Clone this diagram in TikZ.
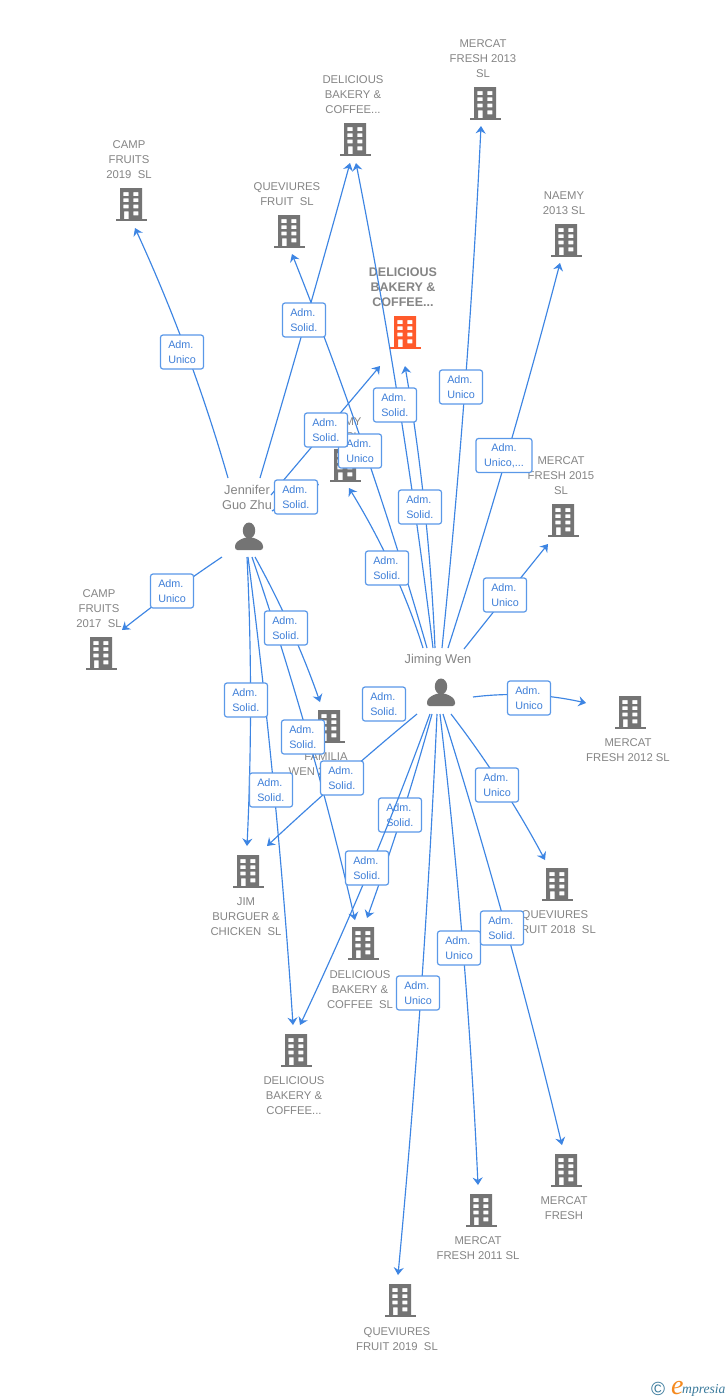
\documentclass[tikz,border=0pt]{standalone}
\usepackage{fontspec}
\setmainfont{Liberation Sans}
\newfontfamily\logofont{Liberation Serif}
\usetikzlibrary{arrows.meta,calc}
\definecolor{edgeblue}{HTML}{3D85E3}
\definecolor{boxblue}{HTML}{5A98E8}
\definecolor{labblue}{HTML}{3F7FD8}
\definecolor{icongray}{HTML}{747474}
\definecolor{txtgray}{HTML}{858585}
\definecolor{mainred}{HTML}{FF5A2B}
\definecolor{logoteal}{HTML}{3A7A9C}
\definecolor{logoorange}{HTML}{F58A1F}
\tikzset{
  x=1pt,y=-1pt,
  conn/.style={draw=edgeblue,line width=1.15pt,-{Stealth[length=7.5pt,width=10pt,inset=2.5pt]}},
  admbox/.style={draw=boxblue,line width=1.2pt,fill=white,rounded corners=2.5pt,minimum width=43pt,minimum height=34pt,inner sep=0pt,text=labblue,font=\fontsize{10.8}{15}\selectfont,text width=27.5pt,align=left},
  widebox/.style={admbox,text width=56pt,minimum width=56pt,align=center},
  nodetxt/.style={align=center,text=txtgray,inner sep=0pt,font=\fontsize{11.3}{15}\selectfont},
  persontxt/.style={align=center,text=txtgray,inner sep=0pt,font=\fontsize{12.8}{15}\selectfont},
  maintxt/.style={align=center,text=txtgray,inner sep=0pt,font=\bfseries\fontsize{12.5}{15}\selectfont},
}
\newcommand{\bicon}[3]{%
  \coordinate (#1) at (#2);
  \begin{scope}[shift={(#1)}]
    \fill[#3,even odd rule] (-11,-17) rectangle (11,14)
      (-7.7,-13) rectangle (-2.3,-9) (2.3,-13) rectangle (7.4,-9)
      (-7.7,-6.7) rectangle (-2.3,-3) (2.3,-6.7) rectangle (7.4,-3)
      (-7.7,-0.3) rectangle (-2.3,3.3) (2.3,-0.3) rectangle (7.4,3.3)
      (-7,6.3) rectangle (-2.3,14) (2.3,6.3) rectangle (7.4,10.3);
    \fill[#3] (-15.5,14) rectangle (15.5,16);
  \end{scope}}
\newcommand{\picon}[2]{%
  \coordinate (#1) at (#2);
  \begin{scope}[shift={(#1)}]
    \fill[icongray] (0,-6.5) ellipse (6.2 and 8);
    \fill[icongray,rounded corners=2.5pt] (-14,13) -- (-14,7) -- (-10.5,3.5) -- (-4,0.5) -- (4,0.5) -- (10.5,3.5) -- (14,7) -- (14,13) -- cycle;
  \end{scope}}
% connector: id, start, point on the curve, end
\newcommand{\link}[4]{%
  \coordinate (s#1) at (#2);
  \coordinate (m#1) at (#3);
  \coordinate (e#1) at (#4);
  \draw[conn] (s#1) .. controls ($1.3333*(m#1)-0.3333*(e#1)$) and ($1.3333*(m#1)-0.3333*(s#1)$) .. (e#1);}
\newcommand{\AS}{Adm.\\Solid.}
\newcommand{\AU}{Adm.\\Unico}
\begin{document}
\begin{tikzpicture}
\useasboundingbox (0,0) rectangle (728,1400);
\fill[white] (0,0) rectangle (728,1400);

\bicon{mf13}{485,104}{icongray}
\node[nodetxt] (tmf13) at (483,59) {MERCAT\\FRESH 2013\\SL};
\bicon{dbc1}{355,140}{icongray}
\node[nodetxt] (tdbc1) at (353,95) {DELICIOUS\\BAKERY \&\\COFFEE...};
\bicon{cf19}{131,205}{icongray}
\node[nodetxt] (tcf19) at (129,160) {CAMP\\FRUITS\\2019\ \ SL};
\bicon{qf}{289,232}{icongray}
\node[nodetxt] (tqf) at (287,194) {QUEVIURES\\FRUIT\ \ SL};
\bicon{nae}{566,241}{icongray}
\node[nodetxt] (tnae) at (564,203) {NAEMY\\2013 SL};
\bicon{red}{405,333}{mainred}
\node[maintxt] (tred) at (403,287) {DELICIOUS\\BAKERY \&\\COFFEE...};
\bicon{my}{345,466}{icongray}
\node[nodetxt] (tmy) at (353,429) {MY\\SL};
\bicon{mf15}{563,521}{icongray}
\node[nodetxt] (tmf15) at (561,476) {MERCAT\\FRESH 2015\\SL};
\bicon{cf17}{101,654}{icongray}
\node[nodetxt] (tcf17) at (99,609) {CAMP\\FRUITS\\2017\ \ SL};
\bicon{mf12}{630,713}{icongray}
\node[nodetxt] (tmf12) at (628,750) {MERCAT\\FRESH 2012 SL};
\bicon{fam}{329,727}{icongray}
\node[nodetxt] (tfam) at (326,764) {FAMILIA\\WEN 2\phantom{015\ \ SL}};
\bicon{jim}{248,872}{icongray}
\node[nodetxt] (tjim) at (246,917) {JIM\\BURGUER \&\\CHICKEN\ \ SL};
\bicon{q18}{557,885}{icongray}
\node[nodetxt] (tq18) at (555,922) {QUEVIURES\\FRUIT 2018\ \ SL};
\bicon{dbs}{363,944}{icongray}
\node[nodetxt] (tdbs) at (360,990) {DELICIOUS\\BAKERY \&\\COFFEE\ \ SL};
\bicon{dbc2}{296,1051}{icongray}
\node[nodetxt] (tdbc2) at (294,1096) {DELICIOUS\\BAKERY \&\\COFFEE...};
\bicon{mfr}{566,1171}{icongray}
\node[nodetxt] (tmfr) at (564,1208) {MERCAT\\FRESH};
\bicon{mf11}{481,1211}{icongray}
\node[nodetxt] (tmf11) at (478,1248) {MERCAT\\FRESH 2011 SL};
\bicon{q19}{400,1301}{icongray}
\node[nodetxt] (tq19) at (397,1339) {QUEVIURES\\FRUIT 2019\ \ SL};

\picon{jen}{249,537}
\node[persontxt] (tjen) at (247,497) {Jennifer\\Guo Zhu};
\picon{jim2}{441,693}
\node[persontxt] (tjim2) at (438,660) {Jiming Wen};

% connectors
\link{a}{228,478}{186.5,352}{135,228}
\link{b}{260,478}{306,320}{350,163}
\link{c}{271,495}{326,430}{380,366}
\link{d}{222,557}{172,592}{122,630}
\link{e}{255,557}{290.5,628}{320,702}
\link{f}{247,557}{250.5,700}{247,846}
\link{g}{248,557}{274,790}{293,1025}
\link{h}{252,557}{308,737}{355,920}
\link{y}{272,511}{296,497}{319,484}
\link{i}{427,648}{365,451}{292,254}
\link{j}{433,648}{399,405}{356,163}
\link{k}{435,648}{424.5,507}{405,366}
\link{l}{423,648}{392,568}{349,488}
\link{m}{442,648}{465,387}{481,126}
\link{n}{448,648}{507,455}{560,263}
\link{o}{464,649}{507,595}{548,544}
\link{p}{473,697}{529,695}{586,703}
\link{q}{451,714}{501,785}{545,860}
\link{r}{443,714}{506,928}{562,1145}
\link{s}{440,714}{463,948}{478,1185}
\link{t}{437,714}{421,993}{398,1275}
\link{u}{417,714}{342,778}{267,846}
\link{v}{432,714}{402,815}{367,918}

% boxes
\node[admbox] (ba) at (182,352) {\AU};
\node[admbox] (bd) at (172,591) {\AU};
\node[admbox] (be) at (286,628) {\AS};
\node[admbox] (bf) at (246,700) {\AS};
\node[admbox] (bg) at (271,790) {\AS};
\node[admbox] (bh) at (303,737) {\AS};
\node[admbox] (bi) at (360,451) {\AU};
\node[admbox] (bb) at (304,320) {\AS};
\node[admbox] (bc) at (326,430) {\AS};
\node[admbox] (bj) at (395,405) {\AS};
\node[admbox] (bk) at (420,507) {\AS};
\node[admbox] (bl) at (387,568) {\AS};
\node[admbox] (bm) at (461,387) {\AU};
\node[widebox] (bn) at (504,455.5) {Adm.\\Unico,...};
\node[admbox] (bo) at (505,595) {\AU};
\node[admbox] (bp) at (529,698) {\AU};
\node[admbox] (bq) at (497,785) {\AU};
\node[admbox] (bs) at (459,948) {\AU};
\node[admbox] (br) at (502,928) {\AS};
\node[admbox] (bt) at (418,993) {\AU};
\node[admbox] (bu) at (342,778) {\AS};
\node[admbox] (bx) at (384,704) {\AS};
\node[admbox] (bv) at (400,815) {\AS};
\node[admbox] (by) at (296,497) {\AS};
\link{w}{430,714}{370,868}{300,1025}
\node[admbox] (bw) at (367,868) {\AS};

% logo
\node[text=logoteal,inner sep=0pt,font=\fontsize{19}{19}\selectfont] (copy) at (658,1389) {©};
\node[anchor=base west,inner sep=0pt,text=logoorange,font=\logofont\itshape\fontsize{28}{28}\selectfont] (eee) at (671,1394) {e};
\node[anchor=base west,inner sep=0pt,text=logoteal,font=\logofont\itshape\fontsize{13.6}{14}\selectfont] (mpr) at (682,1393) {mpresia};
\end{tikzpicture}
\end{document}
